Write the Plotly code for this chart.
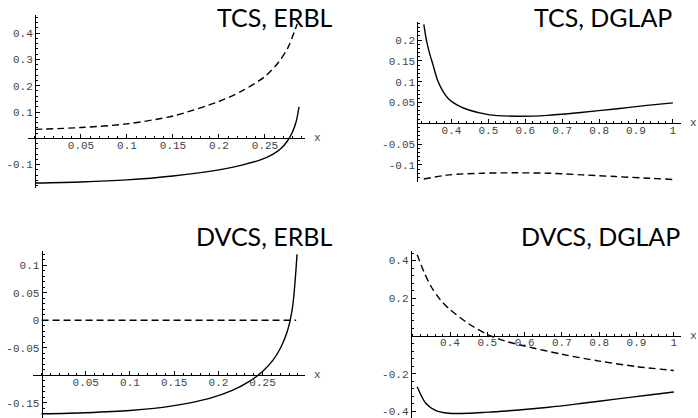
import plotly.graph_objects as go

W, H = 698, 418

# ---------------- data ----------------
# Panel 1: TCS, ERBL
tcs_erbl_x_dash = [0, 0.05, 0.1, 0.15, 0.2, 0.225, 0.25, 0.265, 0.275, 0.285]
tcs_erbl_y_dash = [0.034, 0.041, 0.055, 0.085, 0.14, 0.18, 0.235, 0.29, 0.345, 0.435]
tcs_erbl_x_solid = [0, 0.05, 0.1, 0.15, 0.2, 0.225, 0.245, 0.258, 0.267, 0.274, 0.28, 0.284, 0.287]
tcs_erbl_y_solid = [-0.17, -0.166, -0.158, -0.143, -0.12, -0.102, -0.082, -0.062, -0.04, -0.012, 0.025, 0.065, 0.12]

# Panel 2: TCS, DGLAP
tcs_dglap_x_solid = [0.325, 0.332, 0.34, 0.35, 0.362, 0.375, 0.393, 0.42, 0.447, 0.5, 0.575, 0.66, 0.75, 0.85, 0.93, 1.0]
tcs_dglap_y_solid = [0.238, 0.2, 0.17, 0.14, 0.104, 0.08, 0.058, 0.042, 0.032, 0.021, 0.017, 0.019, 0.026, 0.035, 0.043, 0.049]
tcs_dglap_x_dash = [0.325, 0.393, 0.483, 0.574, 0.664, 0.755, 0.845, 0.935, 1.0]
tcs_dglap_y_dash = [-0.134, -0.124, -0.12, -0.119, -0.12, -0.124, -0.128, -0.132, -0.135]

# Panel 3: DVCS, ERBL
dvcs_erbl_x_solid = [0, 0.05, 0.1, 0.15, 0.19, 0.215, 0.235, 0.25, 0.262, 0.271, 0.278, 0.284, 0.289]
dvcs_erbl_y_solid = [-0.17, -0.168, -0.164, -0.155, -0.142, -0.128, -0.111, -0.093, -0.072, -0.048, -0.02, 0.025, 0.12]
dvcs_erbl_x_dash = [0, 0.288]
dvcs_erbl_y_dash = [0, 0]

# Panel 4: DVCS, DGLAP
dvcs_dglap_x_dash = [0.312, 0.33, 0.35, 0.375, 0.4, 0.45, 0.5, 0.55, 0.6, 0.7, 0.8, 0.9, 1.0]
dvcs_dglap_y_dash = [0.431, 0.34, 0.26, 0.19, 0.14, 0.065, 0.008, -0.028, -0.053, -0.097, -0.133, -0.162, -0.183]
dvcs_dglap_x_solid = [0.312, 0.335, 0.362, 0.397, 0.45, 0.5, 0.576, 0.665, 0.755, 0.844, 0.934, 1.0]
dvcs_dglap_y_solid = [-0.269, -0.357, -0.396, -0.41, -0.41, -0.404, -0.394, -0.378, -0.357, -0.335, -0.313, -0.297]

# tick labels
p1_xticks = [0.05, 0.1, 0.15, 0.2, 0.25]
p1_xtext = ["0.05", "0.1", "0.15", "0.2", "0.25"]
p1_yticks = [-0.1, 0.1, 0.2, 0.3, 0.4]
p1_ytext = ["-0.1", "0.1", "0.2", "0.3", "0.4"]

p2_xticks = [0.4, 0.5, 0.6, 0.7, 0.8, 0.9, 1.0]
p2_xtext = ["0.4", "0.5", "0.6", "0.7", "0.8", "0.9", "1"]
p2_yticks = [-0.1, -0.05, 0.05, 0.1, 0.15, 0.2]
p2_ytext = ["-0.1", "-0.05", "0.05", "0.1", "0.15", "0.2"]

p3_xticks = [0.05, 0.1, 0.15, 0.2, 0.25]
p3_xtext = ["0.05", "0.1", "0.15", "0.2", "0.25"]
p3_yticks = [-0.15, -0.05, 0, 0.05, 0.1]
p3_ytext = ["-0.15", "-0.05", "0", "0.05", "0.1"]

p4_xticks = [0.4, 0.5, 0.6, 0.7, 0.8, 0.9, 1.0]
p4_xtext = ["0.4", "0.5", "0.6", "0.7", "0.8", "0.9", "1"]
p4_yticks = [-0.4, -0.2, 0.2, 0.4]
p4_ytext = ["-0.4", "-0.2", "0.2", "0.4"]

titles = ["TCS, ERBL", "TCS, DGLAP", "DVCS, ERBL", "DVCS, DGLAP"]

# ---------------- layout geometry ----------------
panels = [
    dict(xr=[-0.0076, 0.2935], xpx=[28, 305], yr=[-0.190, 0.4688], ypx=[15, 188.3], xcross=0.0, ycross=0.0,
         xt=p1_xticks, xtt=p1_xtext, yt=p1_yticks, ytt=p1_ytext, xminor=0.01, yminor=0.02,
         title=titles[0], tx=335, ty=17),
    dict(xr=[0.3073, 1.0211], xpx=[417.3, 680.7], yr=[-0.1418, 0.2442], ypx=[21.7, 182.3], xcross=0.0, ycross=None,
         xt=p2_xticks, xtt=p2_xtext, yt=p2_yticks, ytt=p2_ytext, xminor=0.02, yminor=0.01,
         title=titles[1], tx=674, ty=17),
    dict(xr=[-0.0097, 0.2980], xpx=[33, 305], yr=[-0.1776, 0.1255], ypx=[251.3, 418], xcross=-0.1, ycross=0.0,
         xt=p3_xticks, xtt=p3_xtext, yt=p3_yticks, ytt=p3_ytext, xminor=0.01, yminor=0.01,
         title=titles[2], tx=335, ty=236),
    dict(xr=[0.2946, 1.0185], xpx=[410.7, 680.7], yr=[-0.435, 0.4493], ypx=[251.3, 418], xcross=0.0, ycross=None,
         xt=p4_xticks, xtt=p4_xtext, yt=p4_yticks, ytt=p4_ytext, xminor=0.02, yminor=0.04,
         title=titles[3], tx=682, ty=236),
]

series = [
    [(tcs_erbl_x_dash, tcs_erbl_y_dash, True), (tcs_erbl_x_solid, tcs_erbl_y_solid, False)],
    [(tcs_dglap_x_solid, tcs_dglap_y_solid, False), (tcs_dglap_x_dash, tcs_dglap_y_dash, True)],
    [(dvcs_erbl_x_dash, dvcs_erbl_y_dash, True), (dvcs_erbl_x_solid, dvcs_erbl_y_solid, False)],
    [(dvcs_dglap_x_dash, dvcs_dglap_y_dash, True), (dvcs_dglap_x_solid, dvcs_dglap_y_solid, False)],
]

tick_font = dict(family="Liberation Mono, Courier New, monospace", size=11, color="#444444")
title_font = dict(family="Lato, DejaVu Sans, sans-serif", size=25, color="black")

fig = go.Figure()
layout = dict(width=W, height=H, margin=dict(l=0, r=0, t=0, b=0),
              paper_bgcolor="white", plot_bgcolor="white", showlegend=False)
annotations = []

for i, (p, ser) in enumerate(zip(panels, series), start=1):
    sx = "" if i == 1 else str(i)
    xdom = [p["xpx"][0] / W, p["xpx"][1] / W]
    ydom = [1 - p["ypx"][1] / H, 1 - p["ypx"][0] / H]
    yfrac = (p["xcross"] - p["yr"][0]) / (p["yr"][1] - p["yr"][0])
    xaxis_pos = ydom[0] + yfrac * (ydom[1] - ydom[0])
    if p["ycross"] is None:
        yaxis_pos = xdom[0]
    else:
        xfrac = (p["ycross"] - p["xr"][0]) / (p["xr"][1] - p["xr"][0])
        yaxis_pos = xdom[0] + xfrac * (xdom[1] - xdom[0])

    common = dict(showgrid=False, zeroline=False, showline=True, linecolor="black", linewidth=1,
                  ticks="inside", ticklen=4, tickwidth=1, tickcolor="black",
                  tickmode="array", tickfont=tick_font, fixedrange=True, ticklabeloverflow="allow")
    layout["xaxis" + sx] = dict(common, domain=xdom, range=p["xr"], anchor="free", position=xaxis_pos,
                                tickvals=p["xt"], ticktext=p["xtt"], ticklabelstandoff=-4,
                                minor=dict(ticks="inside", ticklen=2, tickwidth=1, tickcolor="black",
                                           dtick=p["xminor"], tick0=0))
    layout["yaxis" + sx] = dict(common, domain=ydom, range=p["yr"], anchor="free", position=yaxis_pos,
                                side="left", tickvals=p["yt"], ticktext=p["ytt"],
                                minor=dict(ticks="inside", ticklen=2, tickwidth=1, tickcolor="black",
                                           dtick=p["yminor"], tick0=0))

    for xs, ys, dashed in ser:
        fig.add_trace(go.Scatter(
            x=xs, y=ys, mode="lines", xaxis="x" + sx, yaxis="y" + sx,
            line=dict(color="black", width=1.4, dash="7px,4px" if dashed else "solid",
                      shape="spline", smoothing=0.8),
            hoverinfo="skip"))

    annotations.append(dict(text="x", xref="x" + sx + " domain", yref="y" + sx, x=1, y=p["xcross"],
                            xanchor="left", yanchor="middle", xshift=7, showarrow=False, font=tick_font))
    annotations.append(dict(text=p["title"], xref="paper", yref="paper", x=p["tx"] / W, y=1 - p["ty"] / H,
                            xanchor="right", yanchor="middle", showarrow=False, font=title_font))

layout["annotations"] = annotations
fig.update_layout(**layout)
fig.write_html("out.html", config={"displayModeBar": False},
               post_script="document.body.style.margin='0';document.body.style.padding='0';")
